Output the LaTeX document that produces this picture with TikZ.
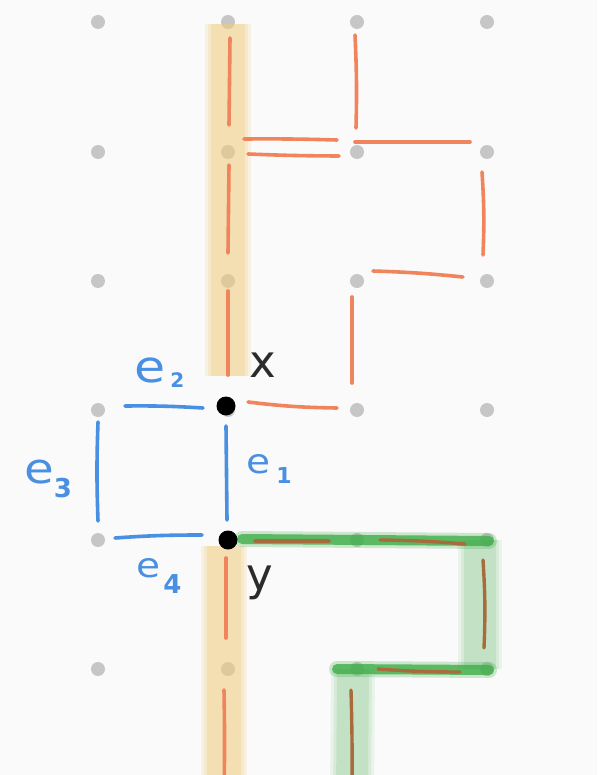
\documentclass[tikz,border=0pt]{standalone}
\usepackage{fontspec}
\newfontfamily\hand{DejaVu Sans}
\definecolor{bgc}{HTML}{FAFAFA}
\definecolor{dotc}{HTML}{C6C6C6}
\definecolor{orng}{HTML}{F0845C}
\definecolor{brwn}{HTML}{A86C3C}
\definecolor{blu}{HTML}{4A90E2}
\definecolor{yband}{HTML}{F2CC7A}
\definecolor{gstrong}{HTML}{3FAE49}
\definecolor{gband}{HTML}{7CC47F}
\definecolor{ink}{HTML}{2B2B2B}
\tikzset{
  gdot/.style={circle,fill=dotc,inner sep=0pt,minimum size=14pt},
  bdot/.style={circle,fill=black,inner sep=0pt,minimum size=19pt},
  oseg/.style={draw=orng,line width=3.6pt,line cap=round},
  bseg/.style={draw=brwn,line width=3.4pt,line cap=round},
  blseg/.style={draw=blu,line width=3.6pt,line cap=round},
  elabel/.style={text=blu,inner sep=0pt,anchor=base west},
  xylabel/.style={text=ink,inner sep=0pt,anchor=base west,font=\hand\fontsize{45}{45}\selectfont},
}
% #1 e size, #2 digit, #3 digit size, #4 raise, #5 gap
\newcommand\elab[5]{\hand\fontsize{#1}{#1}\selectfont \scalebox{1.15}[1]{e}\hspace{#5}\raisebox{#4}{\fontsize{#3}{#3}\selectfont\bfseries #2}}
\begin{document}
\begin{tikzpicture}[x=1pt,y=-1pt]
\fill[bgc] (0,0) rectangle (597,775);
\useasboundingbox (0,0) rectangle (597,775);
% grid
\foreach \i/\x in {1/98,2/228,3/357,4/487}
  \foreach \j/\y in {1/22,2/152,3/281,4/410,5/540,6/669}
    \node[gdot] (g\i\j) at (\x,\y) {};
\coordinate (b2) at (224,795);
\coordinate (b3) at (352,795);
\coordinate (xpos) at (226,406);
\coordinate (ypos) at (228,540);
% yellow bands
\foreach \w/\o in {46/0.18,40/0.22,34/0.3}{
  \draw[yband,line width=\w pt,opacity=\o] ([shift={(0,2)}]g21.center) -- ([shift={(2,-30)}]xpos);
  \draw[yband,line width=\w pt,opacity=\o] ([shift={(-4,6)}]ypos) -- (b2);
}
% green highlight
\foreach \w/\o in {44/0.12,38/0.16,32/0.22}{
  \draw[gband,line width=\w pt,opacity=\o] ([shift={(-7,0)}]g45.center) -- ([shift={(-7,0)}]g46.center);
  \draw[gband,line width=\w pt,opacity=\o] ([shift={(-4,0)}]g36.center) -- (b3);
}
\foreach \w/\o in {16/0.25,10/0.8}{
  \draw[gstrong,line width=\w pt,opacity=\o,line cap=round] ([shift={(14,-1)}]ypos) -- ([shift={(2,1)}]g45.center);
  \draw[gstrong,line width=\w pt,opacity=\o,line cap=round] ([shift={(-20,0)}]g36.center) -- ([shift={(2,1)}]g46.center);
}
% orange segments
\draw[oseg] ([shift={(2,16)}]g21.center) -- ([shift={(1,-27)}]g22.center);
\draw[oseg] ([shift={(1,13)}]g22.center) -- ([shift={(0,-28)}]g23.center);
\draw[oseg] ([shift={(0,10)}]g23.center) -- ([shift={(2,-31)}]xpos);
\draw[oseg] ([shift={(16,-13)}]g22.center) to[bend left=1] ([shift={(-20,-12)}]g32.center);
\draw[oseg] ([shift={(20,2)}]g22.center) to[bend right=1] ([shift={(-18,4)}]g32.center);
\draw[oseg] ([shift={(-2,13)}]g31.center) to[bend left=2] ([shift={(-1,-24)}]g32.center);
\draw[oseg] ([shift={(-2,-10)}]g32.center) -- ([shift={(-17,-10)}]g42.center);
\draw[oseg] ([shift={(-5,20)}]g42.center) to[bend left=3] ([shift={(-4,-26)}]g43.center);
\draw[oseg] ([shift={(16,-10)}]g33.center) to[bend left=2] ([shift={(-24,-4)}]g43.center);
\draw[oseg] ([shift={(-5,16)}]g33.center) -- ([shift={(-5,-27)}]g34.center);
\draw[oseg] ([shift={(22,-4)}]xpos) to[bend right=3] ([shift={(-20,-2)}]g34.center);
\draw[oseg] ([shift={(-2,18)}]ypos) -- ([shift={(-2,-31)}]g26.center);
\draw[oseg] ([shift={(-4,21)}]g26.center) to[bend left=1] (b2);
% brown segments
\draw[bseg] ([shift={(27,1)}]ypos) -- ([shift={(-28,1)}]g35.center);
\draw[bseg] ([shift={(23,0)}]g35.center) to[bend left=2] ([shift={(-22,4)}]g45.center);
\draw[bseg] ([shift={(-4,20)}]g45.center) to[bend left=3] ([shift={(-3,-21)}]g46.center);
\draw[bseg] ([shift={(21,0)}]g36.center) to[bend right=2] ([shift={(-27,3)}]g46.center);
\draw[bseg] ([shift={(-6,21)}]g36.center) to[bend left=1] (b3);
% blue square
\draw[blseg] ([shift={(27,-4)}]g14.center) to[bend left=2] ([shift={(-23,2)}]xpos);
\draw[blseg] ([shift={(0,20)}]xpos) -- ([shift={(-1,-20)}]ypos);
\draw[blseg] ([shift={(0,12)}]g14.center) to[bend right=2] ([shift={(0,-19)}]g15.center);
\draw[blseg] ([shift={(17,-2)}]g15.center) to[bend left=2] ([shift={(-26,-5)}]ypos);
% black dots
\node[bdot] (xdot) at (xpos) {};
\node[bdot] (ydot) at (ypos) {};
% labels
\node[elabel] (le2) at (134,382) {\elab{44}{2}{20}{-5pt}{5pt}};
\node[elabel] (le1) at (246,473) {\elab{34}{1}{22}{-10pt}{6pt}};
\node[elabel] (le3) at (24,483) {\elab{42}{3}{26}{-14pt}{0pt}};
\node[elabel] (le4) at (136,577) {\elab{34}{4}{26}{-16pt}{3pt}};
\node[xylabel] (lx) at (249,377) {x};
\node[xylabel] (ly) at (246,590) {y};
\end{tikzpicture}
\end{document}
